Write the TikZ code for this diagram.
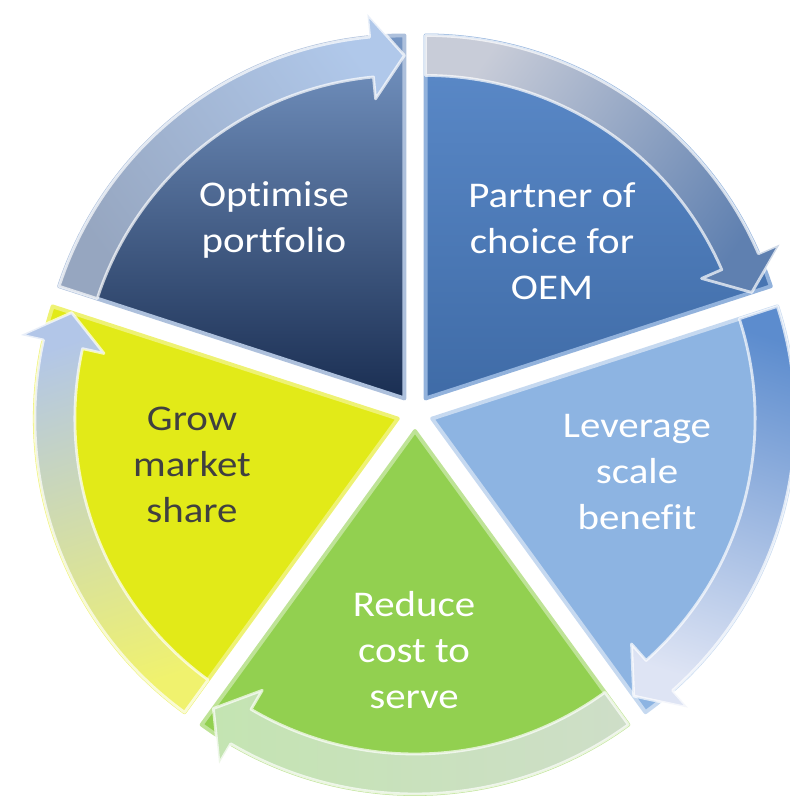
\documentclass[tikz,border=0pt]{standalone}
\usepackage{fontspec}
\setmainfont{Carlito}
\newfontfamily\lblfont[FakeStretch=1.13, Ligatures={NoCommon,NoContextual}]{Carlito}
\usepackage{tikz}
\usetikzlibrary{positioning}
\definecolor{OPTTOP}{RGB}{118,150,196}
\definecolor{OPTBOT}{RGB}{26,46,82}
\definecolor{PARTNER}{RGB}{74,126,196}
\definecolor{LEVER}{RGB}{141,180,226}
\definecolor{REDUCE}{RGB}{146,208,80}
\definecolor{GROW}{RGB}{226,234,24}
\definecolor{DARKTXT}{RGB}{64,64,64}
\definecolor{BANDGREY}{RGB}{200,204,216}
\definecolor{BANDBLUE}{RGB}{95,128,176}

\begin{document}
\begin{tikzpicture}[
  slice/.style={line width=1.1pt, line join=round},
  band/.style={draw=white, draw opacity=0.7, line width=0.8pt, line join=round},
  lbl/.style={font=\lblfont\fontsize{10.3}{13.1}\selectfont, text=white, align=center}
]
\useasboundingbox (-4.15,-3.88) rectangle (3.75,4.13);

% slice 1: optimise portfolio (162 -> 90)
\begin{scope}[shift={(126:0.18)}]
  \shade[slice, draw=OPTTOP!60!white, top color=OPTTOP, bottom color=OPTBOT]
    (0,0) -- (162:3.63) arc[start angle=162, end angle=90, radius=3.63] -- cycle;
  \shade[band, top color={rgb,255:red,150;green,166;blue,192}, bottom color={rgb,255:red,176;green,200;blue,234}, shading angle=126]
    (162:3.63) arc[start angle=162, end angle=95.5, radius=3.63] -- (95.5:3.86) -- (90:3.43)
    -- (95.5:3.01) -- (95.5:3.23) arc[start angle=95.5, end angle=162, radius=3.23] -- cycle;
\end{scope}

% slice 2: partner of choice (90 -> 18)
\begin{scope}[shift={(54:0.18)}]
  \shade[slice, draw=PARTNER!60!white, top color=PARTNER!90!white, bottom color=PARTNER!85!black]
    (0,0) -- (90:3.63) arc[start angle=90, end angle=18, radius=3.63] -- cycle;
  \shade[band, top color=BANDGREY, bottom color=BANDBLUE, shading angle=54]
    (90:3.63) arc[start angle=90, end angle=23.5, radius=3.63] -- (23.5:3.86) -- (18:3.43)
    -- (23.5:3.01) -- (23.5:3.23) arc[start angle=23.5, end angle=90, radius=3.23] -- cycle;
\end{scope}

% slice 3: leverage scale benefit (18 -> -54)
\begin{scope}[shift={(-18:0.18)}]
  \fill[slice, draw=LEVER!50!white, fill=LEVER]
    (0,0) -- (18:3.63) arc[start angle=18, end angle=-54, radius=3.63] -- cycle;
  \shade[band, top color={rgb,255:red,92;green,140;blue,206}, bottom color={rgb,255:red,222;green,228;blue,244}, shading angle=-18]
    (18:3.63) arc[start angle=18, end angle=-48.5, radius=3.63] -- (-48.5:3.86) -- (-54:3.43)
    -- (-48.5:3.01) -- (-48.5:3.23) arc[start angle=-48.5, end angle=18, radius=3.23] -- cycle;
\end{scope}

% slice 4: reduce cost to serve (-54 -> -126)
\begin{scope}[shift={(-90:0.18)}]
  \fill[slice, draw=REDUCE!60!white, fill=REDUCE]
    (0,0) -- (-54:3.63) arc[start angle=-54, end angle=-126, radius=3.63] -- cycle;
  \shade[band, top color={rgb,255:red,206;green,222;blue,200}, bottom color={rgb,255:red,196;green,228;blue,178}, shading angle=-90]
    (-54:3.63) arc[start angle=-54, end angle=-120.5, radius=3.63] -- (-120.5:3.86) -- (-126:3.43)
    -- (-120.5:3.01) -- (-120.5:3.23) arc[start angle=-120.5, end angle=-54, radius=3.23] -- cycle;
\end{scope}

% slice 5: grow market share (234 -> 162)
\begin{scope}[shift={(198:0.18)}]
  \fill[slice, draw=GROW!60!white, fill=GROW]
    (0,0) -- (234:3.63) arc[start angle=234, end angle=162, radius=3.63] -- cycle;
  \shade[band, top color={rgb,255:red,240;green,242;blue,110}, bottom color={rgb,255:red,178;green,198;blue,232}, shading angle=198]
    (234:3.63) arc[start angle=234, end angle=167.5, radius=3.63] -- (167.5:3.86) -- (162:3.43)
    -- (167.5:3.01) -- (167.5:3.23) arc[start angle=167.5, end angle=234, radius=3.23] -- cycle;
\end{scope}

% labels
\node[lbl] (optimise) at (-1.41,1.93) {Opt\kern0pt imise\\portfolio};
\node[lbl] (partner) at (1.37,1.72) {Partner of\\choice for\\OEM};
\node[lbl] (leverage) at (2.22,-0.59) {Leverage\\scale\\benef\kern0pt it};
\node[lbl] (reduce) at (-0.01,-2.37) {Reduce\\cost to\\serve};
\node[lbl, text=DARKTXT] (grow) at (-2.23,-0.52) {Grow\\market\\share};

\end{tikzpicture}
\end{document}
